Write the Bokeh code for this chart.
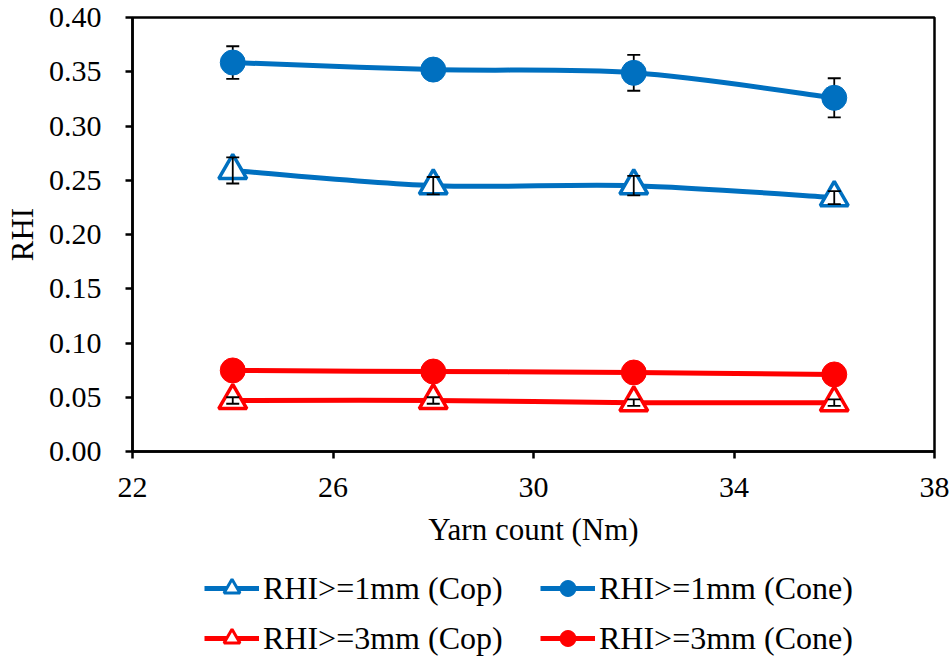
from bokeh.plotting import figure
from bokeh.layouts import column
from bokeh.models import (ColumnDataSource, Whisker, TeeHead, Legend, LegendItem,
                          FixedTicker, NumeralTickFormatter, Range1d)
from bokeh.embed import file_html
from bokeh.resources import INLINE

yarn_count = [24, 28, 32, 36]
rhi1_cop = [0.259, 0.245, 0.245, 0.234]
rhi1_cop_err = [0.012, 0.008, 0.009, 0.006]
rhi1_cone = [0.3585, 0.352, 0.349, 0.326]
rhi1_cone_err = [0.015, 0.008, 0.0165, 0.018]
rhi3_cop = [0.047, 0.047, 0.045, 0.045]
rhi3_cop_err = [0.003, 0.003, 0.003, 0.003]
rhi3_cone = [0.0747, 0.0737, 0.0728, 0.071]
rhi3_cone_err = [0.002, 0.002, 0.002, 0.002]

x_ticks = [22, 26, 30, 34, 38]
y_ticks = [0.0, 0.05, 0.10, 0.15, 0.20, 0.25, 0.30, 0.35, 0.40]

BLUE = "#0070C0"
RED = "#FF0000"
FONT = "Liberation Serif"

p = figure(width=952, height=560, output_backend="svg", toolbar_location=None,
           x_range=Range1d(22, 38), y_range=Range1d(0, 0.40),
           min_border_left=132, min_border_right=18, min_border_top=17,
           min_border_bottom=109)
p.grid.visible = False
p.outline_line_color = "black"
p.outline_line_width = 2.5
p.background_fill_color = "white"
p.border_fill_color = "white"

for ax in (p.xaxis[0], p.yaxis[0]):
    ax.axis_line_width = 2.5
    ax.axis_line_color = "black"
    ax.major_tick_line_width = 2.5
    ax.major_tick_line_color = "black"
    ax.major_tick_out = 7
    ax.major_tick_in = 0
    ax.minor_tick_line_color = None
    ax.major_label_text_font = FONT
    ax.major_label_text_font_size = "30px"
    ax.major_label_text_color = "black"
    ax.axis_label_text_font = FONT
    ax.axis_label_text_font_size = "31px"
    ax.axis_label_text_font_style = "normal"
    ax.axis_label_text_color = "black"

p.xaxis.ticker = FixedTicker(ticks=x_ticks)
p.yaxis.ticker = FixedTicker(ticks=y_ticks)
p.yaxis.formatter = NumeralTickFormatter(format="0.00")
p.xaxis.axis_label = "Yarn count (Nm)"
p.yaxis.axis_label = "RHI"
p.xaxis.major_label_standoff = 19
p.yaxis.major_label_standoff = 24
p.xaxis.axis_label_standoff = 12
p.yaxis.axis_label_standoff = 6


def smooth(xs, ys):
    n = len(xs)
    x0, y0, x1, y1, cx0, cy0, cx1, cy1 = [], [], [], [], [], [], [], []
    for i in range(n - 1):
        pm = max(i - 1, 0)
        pp = min(i + 2, n - 1)
        x0.append(xs[i]); y0.append(ys[i])
        x1.append(xs[i + 1]); y1.append(ys[i + 1])
        cx0.append(xs[i] + (xs[i + 1] - xs[pm]) / 6.0)
        cy0.append(ys[i] + (ys[i + 1] - ys[pm]) / 6.0)
        cx1.append(xs[i + 1] - (xs[pp] - xs[i]) / 6.0)
        cy1.append(ys[i + 1] - (ys[pp] - ys[i]) / 6.0)
    return ColumnDataSource(dict(x0=x0, y0=y0, x1=x1, y1=y1,
                                 cx0=cx0, cy0=cy0, cx1=cx1, cy1=cy1))


series = [
    ("RHI>=1mm (Cop)", rhi1_cop, rhi1_cop_err, BLUE, "triangle"),
    ("RHI>=1mm (Cone)", rhi1_cone, rhi1_cone_err, BLUE, "circle"),
    ("RHI>=3mm (Cop)", rhi3_cop, rhi3_cop_err, RED, "triangle"),
    ("RHI>=3mm (Cone)", rhi3_cone, rhi3_cone_err, RED, "circle"),
]

# legend-only figure below the chart (its range excludes the data, so only
# the legend glyphs are visible)
leg = figure(width=952, height=98, output_backend="svg", toolbar_location=None,
             x_range=Range1d(0, 1), y_range=Range1d(0, 1),
             x_axis_location=None, y_axis_location=None,
             min_border_left=0, min_border_right=0, min_border_top=0,
             min_border_bottom=0)
leg.grid.visible = False
leg.outline_line_color = None

items = {}
for label, ys, errs, color, marker in series:
    src = ColumnDataSource(dict(x=yarn_count, y=ys,
                                lo=[a - b for a, b in zip(ys, errs)],
                                hi=[a + b for a, b in zip(ys, errs)]))
    p.bezier(x0="x0", y0="y0", x1="x1", y1="y1", cx0="cx0", cy0="cy0",
             cx1="cx1", cy1="cy1", source=smooth(yarn_count, ys),
             line_color=color, line_width=5)
    w = Whisker(base="x", lower="lo", upper="hi", source=src, dimension="height",
                line_color="black", line_width=1.8,
                upper_head=TeeHead(size=13, line_color="black", line_width=1.8),
                lower_head=TeeHead(size=13, line_color="black", line_width=1.8))
    ll = leg.line("x", "y", source=src, line_color=color, line_width=5)
    if marker == "triangle":
        p.scatter("x", "y", source=src, marker="triangle", size=28,
                  fill_color="white", line_color=color, line_width=3.5)
        w.level = "overlay"
        lm = leg.scatter("x", "y", source=src, marker="triangle", size=16,
                         fill_color="white", line_color=color, line_width=3)
    else:
        p.scatter("x", "y", source=src, marker="circle", size=25,
                  fill_color=color, line_color=color, line_width=1)
        lm = leg.scatter("x", "y", source=src, marker="circle", size=16,
                         fill_color=color, line_color=color, line_width=1)
    p.add_layout(w)
    items[label] = LegendItem(label=label, renderers=[ll, lm])


def make_legend(labels, loc):
    return Legend(items=[items[k] for k in labels], location=loc,
                  label_text_font=FONT, label_text_font_size="32px",
                  label_text_color="black", glyph_width=55, glyph_height=40,
                  label_height=40, label_standoff=4, spacing=10, padding=0,
                  margin=0, border_line_color=None, background_fill_alpha=0)


leg.add_layout(make_legend(["RHI>=1mm (Cop)", "RHI>=3mm (Cop)"], (72, 0)))
leg.add_layout(make_legend(["RHI>=1mm (Cone)", "RHI>=3mm (Cone)"], (408, 0)))

layout = column(p, leg, spacing=0)
open("out.html", "w").write(file_html(layout, INLINE))
